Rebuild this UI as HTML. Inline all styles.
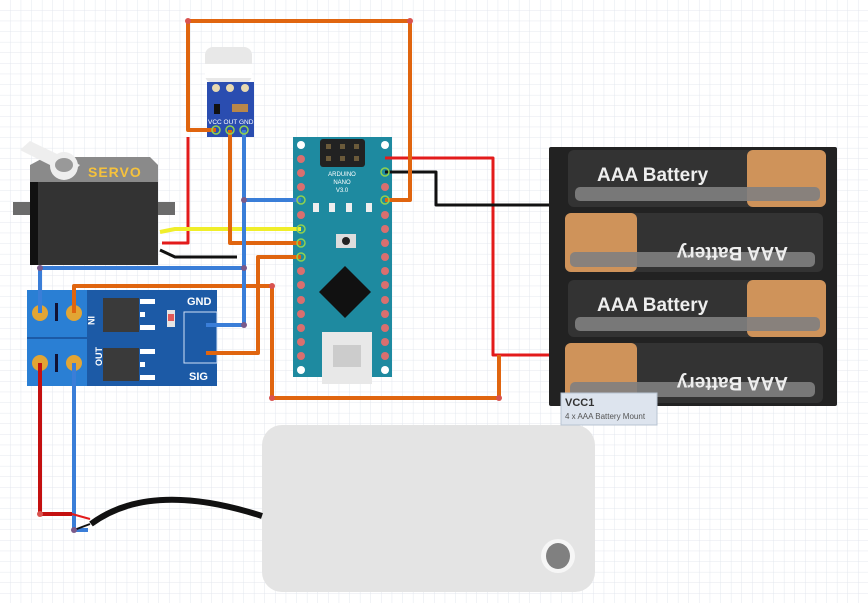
<!DOCTYPE html>
<html><head><meta charset="utf-8"><style>
html,body{margin:0;padding:0;background:#fff;}
svg{display:block;font-family:"Liberation Sans",sans-serif;}
</style></head><body>
<svg width="868" height="603" viewBox="0 0 868 603" xmlns="http://www.w3.org/2000/svg">
<defs>
<pattern id="g" width="10.6" height="10.6" patternUnits="userSpaceOnUse">
<path d="M10.6 0V10.6H0" fill="none" stroke="#e3e7ee" stroke-width="1"/>
</pattern>
</defs>
<rect width="868" height="603" fill="#fff"/>
<rect width="868" height="603" fill="url(#g)"/>

<!-- grey box -->
<rect x="262" y="425" width="333" height="167" rx="20" fill="#e4e4e4"/>
<circle cx="558" cy="556" r="17" fill="#f6f6f6"/>
<ellipse cx="558" cy="556" rx="12" ry="13" fill="#808080"/>

<!-- servo -->
<rect x="13" y="202" width="162" height="13" fill="#6b6b6b"/>
<path d="M30 165 L45 157 L150 157 L158 165 L158 185 L30 185Z" fill="#8a8a8a"/>
<rect x="30" y="182" width="128" height="83" fill="#333"/>
<rect x="30" y="182" width="8" height="83" fill="#111"/>
<path d="M20 150 L30 141 L80 165 L70 175Z" fill="#eee"/>
<circle cx="64" cy="166" r="14" fill="#eee"/>
<ellipse cx="64" cy="165" rx="9" ry="7" fill="#999"/>
<text x="88" y="177" font-size="14" font-weight="bold" fill="#f6c23c" letter-spacing="1">SERVO</text>

<!-- PIR -->
<rect x="205" y="47" width="47" height="36" rx="8" fill="#e8e8e8"/>
<rect x="205" y="64" width="47" height="14" fill="#fff"/>
<rect x="207" y="82" width="47" height="55" fill="#2a4db0"/>
<circle cx="216" cy="88" r="4" fill="#e8d9b0"/><circle cx="230" cy="88" r="4" fill="#e8d9b0"/><circle cx="245" cy="88" r="4" fill="#e8d9b0"/>
<rect x="214" y="104" width="6" height="10" fill="#111"/>
<rect x="232" y="104" width="16" height="8" fill="#b8874a"/>
<text x="208" y="124" font-size="6.5" fill="#fff">VCC OUT GND</text>

<!-- Nano -->
<rect x="293" y="137" width="99" height="240" fill="#1e8aa0"/>
<rect x="320" y="139" width="45" height="28" rx="3" fill="#222"/>
<g fill="#6b5a3a"><rect x="326" y="144" width="5" height="5"/><rect x="340" y="144" width="5" height="5"/><rect x="354" y="144" width="5" height="5"/><rect x="326" y="156" width="5" height="5"/><rect x="340" y="156" width="5" height="5"/><rect x="354" y="156" width="5" height="5"/></g>
<text x="342" y="176" font-size="6" fill="#fff" text-anchor="middle">ARDUINO</text>
<text x="342" y="184" font-size="6" fill="#fff" text-anchor="middle">NANO</text>
<text x="342" y="192" font-size="6" fill="#fff" text-anchor="middle">V3.0</text>
<g fill="#eee"><rect x="313" y="203" width="6" height="9"/><rect x="329" y="203" width="6" height="9"/><rect x="346" y="203" width="6" height="9"/><rect x="366" y="203" width="6" height="9"/></g>
<rect x="336" y="234" width="20" height="14" fill="#ddd"/><circle cx="346" cy="241" r="4" fill="#222"/>
<polygon points="345,266 371,292 345,318 319,292" fill="#111"/>
<rect x="322" y="332" width="50" height="52" fill="#e8e8e8"/>
<rect x="333" y="345" width="28" height="22" fill="#ccc"/>
<g fill="#d96f6f">
<circle cx="301" cy="159" r="4"/><circle cx="301" cy="173" r="4"/><circle cx="301" cy="187" r="4"/><circle cx="301" cy="215" r="4"/><circle cx="301" cy="271" r="4"/><circle cx="301" cy="285" r="4"/><circle cx="301" cy="300" r="4"/><circle cx="301" cy="314" r="4"/><circle cx="301" cy="328" r="4"/><circle cx="301" cy="342" r="4"/><circle cx="301" cy="356" r="4"/>
<circle cx="385" cy="187" r="4"/><circle cx="385" cy="215" r="4"/><circle cx="385" cy="229" r="4"/><circle cx="385" cy="243" r="4"/><circle cx="385" cy="257" r="4"/><circle cx="385" cy="271" r="4"/><circle cx="385" cy="285" r="4"/><circle cx="385" cy="300" r="4"/><circle cx="385" cy="314" r="4"/><circle cx="385" cy="328" r="4"/><circle cx="385" cy="342" r="4"/><circle cx="385" cy="356" r="4"/>
</g>
<circle cx="301" cy="145" r="4" fill="#fff"/><circle cx="385" cy="145" r="4" fill="#fff"/>
<circle cx="301" cy="370" r="4" fill="#fff"/><circle cx="385" cy="370" r="4" fill="#fff"/>

<!-- MOSFET module -->
<rect x="27" y="290" width="190" height="96" fill="#1c5aa6"/>
<rect x="27" y="290" width="60" height="96" fill="#2a7fd4"/>
<line x1="27" y1="338" x2="87" y2="338" stroke="#1c5aa6" stroke-width="2"/>
<g fill="#e2a534"><circle cx="40" cy="313" r="8"/><circle cx="74" cy="313" r="8"/><circle cx="40" cy="363" r="8"/><circle cx="74" cy="363" r="8"/></g>
<rect x="55" y="303" width="3" height="18" fill="#113"/><rect x="55" y="354" width="3" height="18" fill="#113"/>
<text x="98" y="320" font-size="9" font-weight="bold" fill="#fff" transform="rotate(90 95 313)">IN</text>
<text x="92" y="370" font-size="9" font-weight="bold" fill="#fff" transform="rotate(-90 95 363)">OUT</text>
<rect x="103" y="298" width="36" height="34" fill="#3a3a3a"/><rect x="103" y="348" width="36" height="33" fill="#3a3a3a"/>
<g fill="#fff"><rect x="140" y="299" width="15" height="5"/><rect x="140" y="312" width="5" height="5"/><rect x="140" y="325" width="15" height="5"/><rect x="140" y="349" width="15" height="5"/><rect x="140" y="362" width="5" height="5"/><rect x="140" y="375" width="15" height="5"/></g>
<rect x="167" y="310" width="8" height="17" fill="#e5e5e5"/><rect x="168" y="314" width="6" height="7" fill="#e05a5a"/>
<rect x="184" y="312" width="33" height="51" fill="none" stroke="#cfe0f5" stroke-width="1"/>
<text x="187" y="305" font-size="11" font-weight="bold" fill="#fff">GND</text>
<text x="189" y="380" font-size="11" font-weight="bold" fill="#fff">SIG</text>

<!-- Battery holder -->
<rect x="549" y="147" width="288" height="259" rx="2" fill="#222"/>
<g>
<rect x="568" y="150" width="258" height="57" rx="6" fill="#333"/><rect x="747" y="150" width="79" height="57" rx="6" fill="#cf935a"/>
<rect x="575" y="187" width="245" height="14" rx="5" fill="#808080" opacity="0.9"/>
<text x="597" y="181" font-size="19" font-weight="bold" fill="#eee">AAA Battery</text>
<rect x="565" y="213" width="258" height="59" rx="6" fill="#333"/><rect x="565" y="213" width="72" height="59" rx="6" fill="#cf935a"/>
<rect x="570" y="252" width="245" height="15" rx="5" fill="#808080" opacity="0.9"/>
<text x="0" y="0" font-size="19" font-weight="bold" fill="#eee" transform="translate(788 247) rotate(180)">AAA Battery</text>
<rect x="568" y="280" width="258" height="57" rx="6" fill="#333"/><rect x="747" y="280" width="79" height="57" rx="6" fill="#cf935a"/>
<rect x="575" y="317" width="245" height="14" rx="5" fill="#808080" opacity="0.9"/>
<text x="597" y="311" font-size="19" font-weight="bold" fill="#eee">AAA Battery</text>
<rect x="565" y="343" width="258" height="60" rx="6" fill="#333"/><rect x="565" y="343" width="72" height="60" rx="6" fill="#cf935a"/>
<rect x="570" y="382" width="245" height="15" rx="5" fill="#808080" opacity="0.9"/>
<text x="0" y="0" font-size="19" font-weight="bold" fill="#eee" transform="translate(788 377) rotate(180)">AAA Battery</text>
</g>
<rect x="561" y="393" width="96" height="32" fill="#dde4ee" stroke="#b8c3d2"/>
<text x="565" y="406" font-size="11" font-weight="bold" fill="#333">VCC1</text>
<text x="565" y="419" font-size="8" fill="#555">4 x AAA Battery Mount</text>

<!-- wires -->
<g fill="none" stroke-linejoin="round">
<path d="M188 137V243H162" stroke="#e31b1b" stroke-width="3"/>
<path d="M385 158H493V355H549" stroke="#e31b1b" stroke-width="3"/>
<path d="M385 172H436V205H549" stroke="#111" stroke-width="3"/>
<path d="M160 250L175 257H237" stroke="#111" stroke-width="3"/>
<path d="M160 232L175 229H301" stroke="#f0ee2a" stroke-width="4"/>
<path d="M216 130H188V21H410V200H385" stroke="#e0650f" stroke-width="4"/>
<path d="M230 130V243H301" stroke="#e0650f" stroke-width="4"/>
<path d="M301 257H258V353H206" stroke="#e0650f" stroke-width="4"/>
<path d="M74 313V286H272V398H499V355" stroke="#e0650f" stroke-width="4"/>
<path d="M244 130V325H206" stroke="#3a7ed8" stroke-width="4"/>
<path d="M244 200H301" stroke="#3a7ed8" stroke-width="4"/>
<path d="M40 313V268H244" stroke="#3a7ed8" stroke-width="4"/>
<path d="M40 363V514H72" stroke="#c41010" stroke-width="4"/>
<path d="M74 363V530H88" stroke="#3a7ed8" stroke-width="4"/>
<path d="M72 514L90 519" stroke="#e31b1b" stroke-width="2"/>
<path d="M74 530L90 524" stroke="#111" stroke-width="2"/>
<path d="M91 524Q150 480 262 516" stroke="#111" stroke-width="6"/>
</g>
<g fill="#d9534f"><circle cx="188" cy="21" r="3"/><circle cx="410" cy="21" r="3"/><circle cx="272" cy="398" r="3"/><circle cx="499" cy="398" r="3"/><circle cx="272" cy="286" r="3"/><circle cx="40" cy="514" r="3"/></g>
<g fill="#7a5a8a"><circle cx="244" cy="200" r="3"/><circle cx="244" cy="268" r="3"/><circle cx="40" cy="268" r="3"/><circle cx="244" cy="325" r="3"/><circle cx="74" cy="530" r="3"/></g>
<g fill="none" stroke="#8fd14f" stroke-width="1.5"><circle cx="301" cy="229" r="4"/><circle cx="301" cy="243" r="4"/><circle cx="301" cy="257" r="4"/><circle cx="301" cy="200" r="4"/><circle cx="385" cy="200" r="4"/><circle cx="385" cy="172" r="4"/><circle cx="216" cy="130" r="4"/><circle cx="230" cy="130" r="4"/><circle cx="244" cy="130" r="4"/></g>
</svg>
</body></html>
